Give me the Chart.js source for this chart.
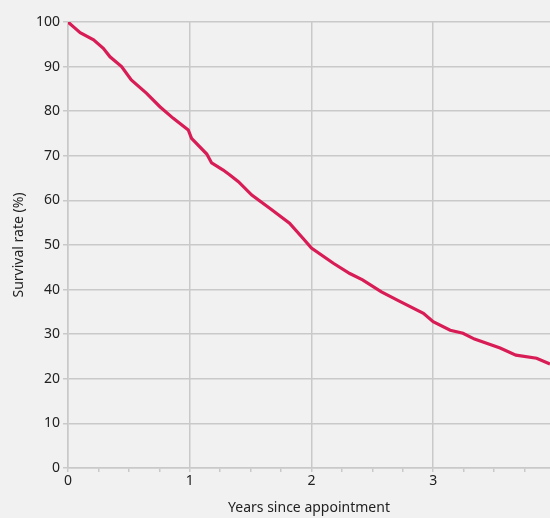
<!DOCTYPE html>
<html>
<head>
<meta charset="utf-8">
<script src="https://cdn.jsdelivr.net/npm/chart.js@4/dist/chart.umd.min.js"></script>
<style>
  html, body { margin: 0; padding: 0; background: #f1f1f1; }
  #wrap { width: 550px; height: 518px; }
</style>
</head>
<body>
<div id="wrap"><canvas id="survivalChart" width="550" height="518"></canvas></div>
<script>
// --- DATA ---
const yearsSince = [0, 0.05, 0.10, 0.21, 0.29, 0.345, 0.44, 0.52, 0.646, 0.755, 0.865, 0.988,
  1.015, 1.14, 1.18, 1.275, 1.33, 1.40, 1.51, 1.66, 1.82, 1.93, 2.0,
  2.18, 2.315, 2.42, 2.575, 2.73, 2.92, 3.0, 3.14, 3.245, 3.34, 3.55, 3.68, 3.85, 3.96];
const survivalRate = [100, 98.8, 97.6, 96.0, 94.1, 92.2, 90.0, 87.0, 84.0, 81.0, 78.4, 75.8,
  73.9, 70.4, 68.4, 66.8, 65.7, 64.2, 61.2, 58.2, 54.9, 51.5, 49.3,
  45.9, 43.6, 42.2, 39.5, 37.3, 34.7, 32.8, 30.9, 30.2, 28.9, 26.9, 25.3, 24.6, 23.3];

const xTicks = [0, 0.25, 0.5, 0.75, 1, 1.25, 1.5, 1.75, 2, 2.25, 2.5, 2.75, 3, 3.25, 3.5, 3.75];
const yTicks = [0, 10, 20, 30, 40, 50, 60, 70, 80, 90, 100];

const gridColor = '#c9c9c9';
const lineColor = '#d81c55';
const textColor = '#222';

Chart.defaults.font.family = '"Noto Sans", sans-serif';
Chart.defaults.font.size = 14;
Chart.defaults.color = textColor;

const ctx = document.getElementById('survivalChart').getContext('2d');
new Chart(ctx, {
  type: 'line',
  data: {
    datasets: [{
      data: yearsSince.map((x, i) => ({ x: x, y: survivalRate[i] })),
      borderColor: lineColor,
      borderWidth: 3.2,
      pointRadius: 0,
      tension: 0,
      fill: false
    }]
  },
  options: {
    responsive: false,
    animation: false,
    layout: { padding: { top: 22, right: 0, left: 11, bottom: 0 } },
    plugins: { legend: { display: false }, tooltip: { enabled: false } },
    scales: {
      x: {
        type: 'linear',
        min: 0,
        max: 3.96,
        afterBuildTicks: s => { s.ticks = xTicks.map(v => ({ value: v })); },
        afterFit: s => { s.height = 50; },
        ticks: {
          autoSkip: false,
          maxRotation: 0,
          padding: 1,
          callback: v => Number.isInteger(v) ? String(v) : ''
        },
        grid: {
          color: c => (c.tick && Number.isInteger(c.tick.value)) ? gridColor : 'rgba(0,0,0,0)',
          tickColor: gridColor,
          tickLength: 4,
          lineWidth: 1.5
        },
        border: { color: gridColor, width: 1.5 },
        title: { display: true, text: 'Years since appointment', padding: { top: 4, bottom: 2 } }
      },
      y: {
        min: 0,
        max: 100,
        afterBuildTicks: s => { s.ticks = yTicks.map(v => ({ value: v })); },
        afterFit: s => { s.width = 57; },
        ticks: { padding: 3 },
        grid: { color: gridColor, tickLength: 5, lineWidth: 1.5 },
        border: { color: gridColor, width: 1.5 },
        title: { display: true, text: 'Survival rate (%)', padding: { top: 0, bottom: 2 } }
      }
    }
  }
});
</script>
</body>
</html>
